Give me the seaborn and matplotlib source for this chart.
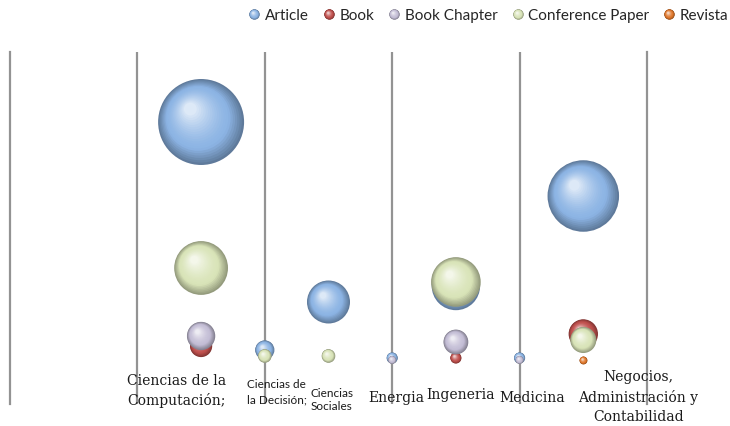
"""
Bubble chart of publication types per subject area, drawn as shaded spheres.
"""

import matplotlib.pyplot as plt
import numpy as np
import pandas as pd
import seaborn as sns
from matplotlib.path import Path
from matplotlib.lines import Line2D
from matplotlib.legend_handler import HandlerTuple

# data
categories = ['Ciencias de la\nComputación;', 'Ciencias de\nla Decisión;', 'Ciencias\nSociales',
              'Energia', 'Ingeneria', 'Medicina', 'Negocios,\nAdministración y\nContabilidad']
cat_pos = [1, 2, 3, 4, 5, 6, 7]
series_names = ['Article', 'Book', 'Book Chapter', 'Conference Paper', 'Revista']
article = [120, 6, 30, 2, 38, 2, 83]
book = [8, None, None, None, 2, None, 14]
book_chapter = [13, None, None, 1, 10, 1, None]
conference_paper = [47, 3, 3, None, 40, None, 11]
revista = [None, None, None, None, None, None, 1]
series_colors = ['#8cb4e4', '#c0504d', '#c4bed6', '#d9e4b8', '#e0782c']

# label layout (offsets in data units from each category)
label_dx = [-0.39, 0.19, 0.05, 0.06, 0.08, 0.2, 0.86]
label_y = [-14, -14.5, -18.5, -17.5, -16, -17.5, -17]
label_style = [('DejaVu Serif', 10, 1.45), ('Lato', 8.5, 1.45), ('Lato', 8.5, 1.15), ('DejaVu Serif', 10, 1.2),
               ('DejaVu Serif', 10, 1.2), ('DejaVu Serif', 10, 1.2), ('DejaVu Serif', 10, 1.45)]

rows = []
for name, vals in zip(series_names, [article, book, book_chapter, conference_paper, revista]):
    for x, v in zip(cat_pos, vals):
        if v is not None:
            rows.append({'serie': name, 'x': x, 'value': v})
df = pd.DataFrame(rows)


def sphere_markers(n=22):
    # nested circles shifted to the upper left give a lit sphere look;
    # the lone MOVETO at (1, 0) keeps every marker on the same scale
    marks = []
    for i in range(n):
        t = i / (n - 1)
        rad = 1 - 0.85 * t
        c = Path.circle((-0.25 * t, 0.3 * t), rad)
        verts = np.vstack([[1, 0], c.vertices])
        codes = np.concatenate([[Path.MOVETO], c.codes])
        marks.append((t, Path(verts, codes)))
    return marks


def shade(color, t):
    base = np.array(plt.matplotlib.colors.to_rgb(color))
    dark = base * 0.68
    light = base + (1 - base) * 0.7
    if t < 0.3:
        return tuple(dark + (base - dark) * (t / 0.3))
    return tuple(base + (light - base) * ((t - 0.3) / 0.7) ** 1.5)


sns.set_style("white")
plt.rcParams['font.family'] = ['DejaVu Sans']

fig = plt.figure(figsize=(7.3, 4.27), dpi=100)
ax = fig.add_axes([10 / 730, 22 / 427, 637 / 730, 352 / 427])

markers = sphere_markers()
for name, col in zip(series_names, series_colors):
    sub = df[df['serie'] == name]
    for t, m in markers:
        sns.scatterplot(data=sub, x='x', y='value', size='value', sizes=(0, 3832),
                        size_norm=(0, 120), color=shade(col, t), marker=m,
                        linewidth=0, legend=False, ax=ax, zorder=3)

ax.set_xlim(-2, 8)
ax.set_ylim(-21, 155)
ax.set_xticks([0, 2, 4, 6])
ax.set_yticks([])
ax.grid(axis='x', color='#939393', lw=1.6)
ax.grid(axis='y', visible=False)
ax.tick_params(length=0, labelbottom=False)
ax.set_xlabel('')
ax.set_ylabel('')
for s in ['top', 'bottom']:
    ax.spines[s].set_visible(False)
for s in ['left', 'right']:
    ax.spines[s].set_color('#939393')
    ax.spines[s].set_linewidth(1.6)

for lab, x, dx, y, (fam, fs, ls) in zip(categories, cat_pos, label_dx, label_y, label_style):
    ax.text(x + dx, y, lab, ha='center', va='center', family=fam, fontsize=fs,
            linespacing=ls, color='#1a1a1a', zorder=5)

# legend with small spheres
handles = []
for col in series_colors:
    parts = tuple(Line2D([], [], ls='', marker=m, markersize=7.5, color=shade(col, t), markeredgewidth=0)
                  for t, m in markers)
    handles.append(parts)
fig.legend(handles, series_names, handler_map={tuple: HandlerTuple(ndivide=1, pad=0)},
           loc='upper right', bbox_to_anchor=(1.017, 1.01), ncol=5, frameon=False,
           handlelength=0.8, handletextpad=0.3, columnspacing=0.9,
           prop={'family': 'Lato', 'size': 11})

plt.savefig('out.png', dpi=100)
